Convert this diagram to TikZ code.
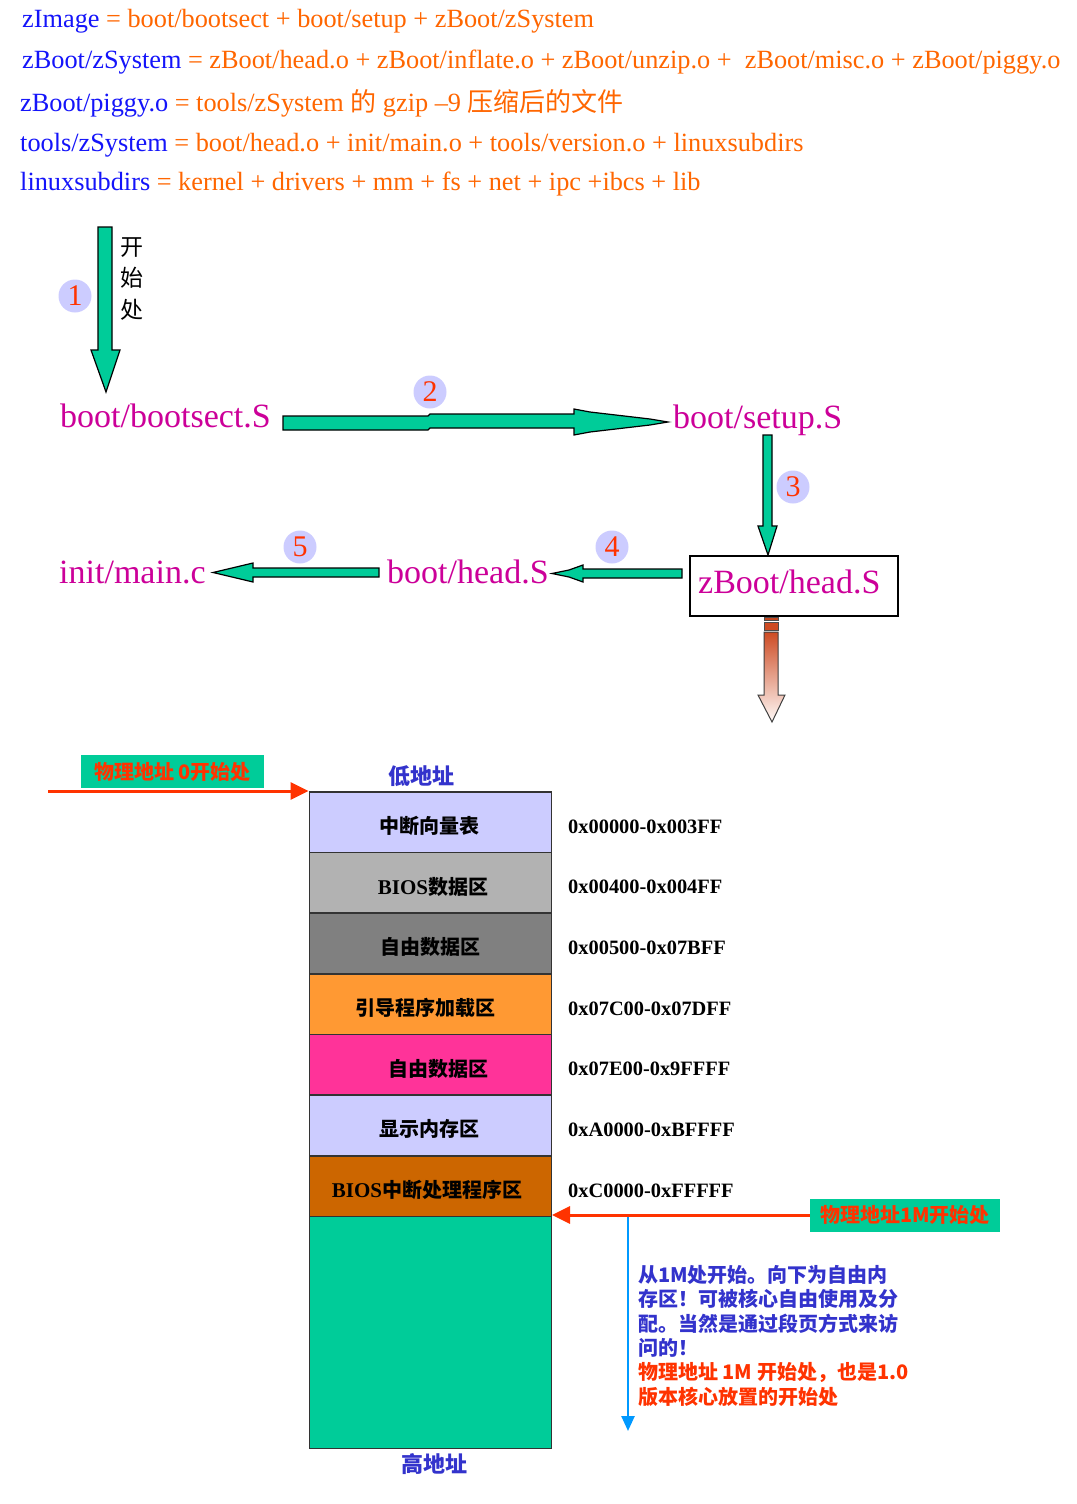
\documentclass[tikz,border=0pt]{standalone}
\usepackage{fontspec}
\setmainfont{Liberation Serif}
\newfontfamily\cjk{Noto Sans CJK SC}
\usetikzlibrary{arrows.meta}
\definecolor{tblue}{RGB}{20,20,250}
\definecolor{torange}{RGB}{255,102,0}
\definecolor{mag}{RGB}{204,0,153}
\definecolor{agreen}{RGB}{0,204,153}
\definecolor{lav}{RGB}{204,204,255}
\definecolor{nred}{RGB}{255,51,0}
\definecolor{gray1}{RGB}{178,178,178}
\definecolor{gray2}{RGB}{128,128,128}
\definecolor{morange}{RGB}{255,153,51}
\definecolor{mpink}{RGB}{255,51,153}
\definecolor{mbrown}{RGB}{204,102,0}
\definecolor{nblue}{RGB}{51,51,204}
\definecolor{lblue}{RGB}{0,153,255}
\definecolor{gtop}{RGB}{205,75,35}
\definecolor{gbot}{RGB}{255,250,248}
\begin{document}
\begin{tikzpicture}[x=1pt,y=-1pt,
  topline/.style={anchor=base west, inner sep=0, font=\fontsize{26.3}{30}\selectfont},
  magtext/.style={anchor=base west, inner sep=0, text=mag, font=\fontsize{34}{38}\selectfont},
  numc/.style={circle, fill=lav, minimum size=33, inner sep=0, text=nred, font=\fontsize{30}{30}\selectfont},
  blockar/.style={fill=agreen, draw=black, line width=1.2, line join=miter},
  memrow/.style={draw=black!80, line width=1.5, minimum width=242, minimum height=60.67, inner sep=0, anchor=north west},
  memtxt/.style={inner sep=0, text=black, font=\cjk\bfseries\fontsize{20}{24}\selectfont},
  addr/.style={anchor=base west, inner sep=0, font=\bfseries\fontsize{20.4}{24}\selectfont},
  lab/.style={fill=agreen, text=nred, inner sep=0, minimum height=33, font=\cjk\bfseries\fontsize{20}{22}\selectfont},
  redar/.style={draw=nred, line width=3, -{Triangle[length=18pt,width=17pt]}},
  bluear/.style={draw=lblue, line width=2.5, -{Triangle[length=15pt,width=13pt]}},
  addrtitle/.style={inner sep=0, text=nblue, font=\cjk\bfseries\fontsize{22}{26}\selectfont}
]
\useasboundingbox (0,0) rectangle (1076,1504);
\fill[white] (0,0) rectangle (1076,1504);

% ---------- top formulas ----------
\node[topline] (l1) at (22,28) {\textcolor{tblue}{zImage} \textcolor{torange}{= boot/bootsect + boot/setup + zBoot/zSystem}};
\node[topline] (l2) at (22,68) {\textcolor{tblue}{zBoot/zSystem} \textcolor{torange}{= zBoot/head.o + zBoot/inflate.o + zBoot/unzip.o + \ zBoot/misc.o + zBoot/piggy.o}};
\node[topline] (l3) at (20,111) {\textcolor{tblue}{zBoot/piggy.o} \textcolor{torange}{= tools/zSystem {\cjk\fontsize{26}{30}\selectfont 的} gzip –9 {\cjk\fontsize{26}{30}\selectfont 压缩后的文件}}};
\node[topline] (l4) at (20,151) {\textcolor{tblue}{tools/zSystem} \textcolor{torange}{= boot/head.o + init/main.o + tools/version.o + linuxsubdirs}};
\node[topline] (l5) at (20,190) {\textcolor{tblue}{linuxsubdirs} \textcolor{torange}{= kernel + drivers + mm + fs + net + ipc +ibcs + lib}};

% ---------- flow ----------
% arrow 1
\filldraw[blockar] (98,227) -- (112,227) -- (112,350) -- (120,350) -- (106,392) -- (91,350) -- (98,350) -- cycle;
\node[inner sep=0, align=center, font=\cjk\fontsize{23}{31.5}\selectfont] (start) at (132,279) {开\\始\\处};
\node[numc] (c1) at (75,296) {1};

\node[magtext] (bootsect) at (60,427) {boot/bootsect.S};
\node[magtext] (setup) at (673,428) {boot/setup.S};

% arrow 2
\filldraw[blockar] (283,416) -- (428,416) -- (430,414) -- (574,414) -- (574,409) -- (590,412) -- (620,415.5) -- (650,419) -- (668,422)
  -- (650,425) -- (620,428.5) -- (590,432) -- (574,435) -- (574,428) -- (430,428) -- (428,430) -- (283,430) -- cycle;
\node[numc] (c2) at (430,392) {2};

% arrow 3
\filldraw[blockar] (763,435) -- (772,435) -- (772,526) -- (777,526) -- (768,555) -- (758,526) -- (763,526) -- cycle;
\node[numc] (c3) at (793,487) {3};

% zBoot/head.S box
\node[draw=black, line width=2.7, fill=white, minimum width=208, minimum height=60, inner sep=0] (zbox) at (794,586) {};
\node[magtext] (zhead) at (698,593) {zBoot/head.S};

% arrow 4
\filldraw[blockar] (682,569) -- (682,578) -- (583,578) -- (583,582) -- (569,577) -- (552,573.5) -- (569,570) -- (583,565) -- (583,569) -- cycle;
\node[numc] (c4) at (612,547) {4};
\node[magtext] (bhead) at (387,583) {boot/head.S};

% arrow 5
\filldraw[blockar] (379,568) -- (379,577) -- (253,577) -- (253,582) -- (232,577) -- (213,572.5) -- (232,568) -- (253,563) -- (253,568) -- cycle;
\node[numc] (c5) at (300,547) {5};
\node[magtext] (imain) at (59,583) {init/main.c};

% gradient arrow
\filldraw[fill=gtop!95!black, draw=black!70, line width=0.8] (764,617) rectangle (778,620);
\filldraw[fill=gtop, draw=black!70, line width=0.8] (764,622) rectangle (778,630);
\shadedraw[top color=gtop, bottom color=gbot, draw=black!75, line width=1] (764,632) -- (778,632) -- (778,695) -- (785,695) -- (772,722) -- (758,695) -- (764,695) -- cycle;

% ---------- memory map ----------
\node[addrtitle] (low) at (421,776) {低地址};
\node[memrow, fill=lav]    (m1) at (308.5,791) {};
\node[memrow, fill=gray1]  (m2) at (308.5,851.67) {};
\node[memrow, fill=gray2]  (m3) at (308.5,912.33) {};
\node[memrow, fill=morange](m4) at (308.5,973) {};
\node[memrow, fill=mpink]  (m5) at (308.5,1033.67) {};
\node[memrow, fill=lav]    (m6) at (308.5,1094.33) {};
\node[memrow, fill=mbrown] (m7) at (308.5,1155) {};
\node[memrow, fill=agreen, minimum height=232.3] (m8) at (308.5,1215.67) {};
\node[addrtitle] (high) at (434,1464) {高地址};

\node[memtxt] (t1) at (429,825.8) {中断向量表};
\node[memtxt] (t2) at (433,886.5) {{\rmfamily\fontsize{21}{24}\selectfont BIOS}数据区};
\node[memtxt] (t3) at (430,947.2) {自由数据区};
\node[memtxt] (t4) at (425,1007.8) {引导程序加载区};
\node[memtxt] (t5) at (438,1068.5) {自由数据区};
\node[memtxt] (t6) at (429,1129.2) {显示内存区};
\node[memtxt] (t7) at (427,1189.8) {{\rmfamily\fontsize{21}{24}\selectfont BIOS}中断处理程序区};

\node[addr] (a1) at (568,833) {0x00000-0x003FF};
\node[addr] (a2) at (568,893.7) {0x00400-0x004FF};
\node[addr] (a3) at (568,954.3) {0x00500-0x07BFF};
\node[addr] (a4) at (568,1015) {0x07C00-0x07DFF};
\node[addr] (a5) at (568,1075.7) {0x07E00-0x9FFFF};
\node[addr] (a6) at (568,1136.3) {0xA0000-0xBFFFF};
\node[addr] (a7) at (568,1197) {0xC0000-0xFFFFF};

% labels and red arrows
\node[lab, minimum width=183] (lab0) at (172.5,771.5) {物理地址 0开始处};
\coordinate (r0) at (48,791);
\draw[redar] (r0) -- (m1.north west);

\node[lab, minimum width=190] (lab1) at (905,1215) {物理地址1M开始处};
\draw[redar] (lab1.west) -- (lab1.west -| m8.north east);

% blue arrow
\coordinate (bs) at (628,1217);
\coordinate (be) at (628,1431);
\draw[bluear] (bs) -- (be);

\node[anchor=north west, inner sep=0, align=left, text=nblue, font=\cjk\bfseries\fontsize{20}{24.4}\selectfont] (note) at (638,1265)
 {从1M处开始。向下为自由内\\
  存区！可被核心自由使用及分\\
  配。当然是通过段页方式来访\\
  问的！\\
  \textcolor{nred}{物理地址 1M 开始处，也是1.0}\\
  \textcolor{nred}{版本核心放置的开始处}};
\end{tikzpicture}
\end{document}
